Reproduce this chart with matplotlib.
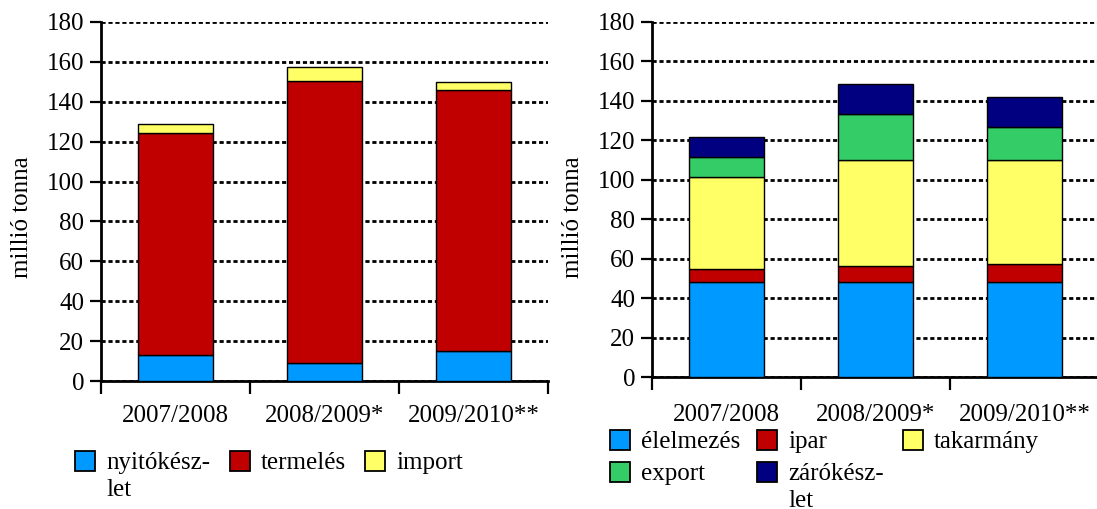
import matplotlib
matplotlib.use('Agg')
import matplotlib.pyplot as plt
from matplotlib.patches import Rectangle

# adatok (millió tonna)
seasons = ['2007/2008', '2008/2009*', '2009/2010**']

# forrás oldal
nyitokeszlet = [13, 9, 15]
termeles = [111.3, 141.5, 130.7]
importok = [4.7, 6.7, 4.3]

# felhasználás oldal
elelmezes = [48, 48, 48]
ipar = [6.8, 8.1, 9.5]
takarmany = [46.8, 54.1, 52.7]
export = [10.2, 23.0, 16.6]
zarokeszlet = [9.9, 15.4, 15.4]

left_labels = ['nyitókész-\nlet', 'termelés', 'import']
left_colors = ['#0099FF', '#C00000', '#FFFF66']
right_labels = ['élelmezés', 'ipar', 'takarmány', 'export', 'zárókész-\nlet']
right_colors = ['#0099FF', '#C00000', '#FFFF66', '#33CC66', '#000080']

W, H = 1097, 509
FS = 18
plt.rcParams['font.family'] = ['Liberation Serif', 'DejaVu Serif']
plt.rcParams['font.size'] = FS


def px(x, y):
    # pixel (felső bal sarokból) -> figure koordináta
    return x / W, 1 - y / H


def stacked(ax, series, colors, label_pad):
    xs = [i + 0.5 for i in range(len(seasons))]
    bottom = [0] * len(seasons)
    for vals, c in zip(series, colors):
        ax.bar(xs, vals, width=0.5, bottom=bottom, color=c,
               edgecolor='black', linewidth=1.0, zorder=3)
        bottom = [b + v for b, v in zip(bottom, vals)]
    ax.set_xlim(0, 3)
    ax.set_ylim(0, 180)
    ax.set_yticks(range(0, 181, 20))
    ax.set_xticks([0, 1, 2, 3])
    ax.set_xticklabels([])
    ax.set_xticks(xs, minor=True)
    ax.set_xticklabels(seasons, minor=True)
    ax.tick_params(axis='x', which='major', direction='out', length=9, width=1.6)
    ax.tick_params(axis='x', which='minor', length=0, pad=label_pad)
    ax.tick_params(axis='y', direction='out', length=8, width=1.6, pad=4)
    ax.yaxis.grid(True, linestyle=(0, (1.5, 1.0)), color='black', linewidth=2.0)
    ax.set_axisbelow(True)
    for s in ['top', 'right']:
        ax.spines[s].set_visible(False)
    for s in ['left', 'bottom']:
        ax.spines[s].set_linewidth(2.0)


def draw_legend(fig, labels, colors, spots):
    # spots: a négyzetek bal széle és sorközepe pixelben
    for lab, c, (x, y) in zip(labels, colors, spots):
        fig.add_artist(Rectangle(px(x, y + 10), 20 / W, 20 / H, transform=fig.transFigure,
                                 facecolor=c, edgecolor='black', linewidth=1.3))
        tx, ty = px(x + 31, y - 9)
        fig.text(tx, ty, lab, ha='left', va='top', linespacing=1.3)


fig = plt.figure(figsize=(W / 100, H / 100), dpi=100)

ax1 = fig.add_axes([101 / W, 128 / H, 447 / W, 359 / H])
stacked(ax1, [nyitokeszlet, termeles, importok], left_colors, 17)

ax2 = fig.add_axes([652 / W, 132 / H, 447 / W, 355 / H])
stacked(ax2, [elelmezes, ipar, takarmany, export, zarokeszlet], right_colors, 19.5)

fig.text(*px(22, 217), 'millió tonna', rotation=90, ha='center', va='center')
fig.text(*px(573, 217), 'millió tonna', rotation=90, ha='center', va='center')

draw_legend(fig, left_labels, left_colors, [(75, 461), (230, 461), (365, 461)])
draw_legend(fig, right_labels, right_colors,
            [(610, 440), (757, 440), (903, 440), (610, 472), (757, 472)])

plt.savefig('out.png', dpi=100)
